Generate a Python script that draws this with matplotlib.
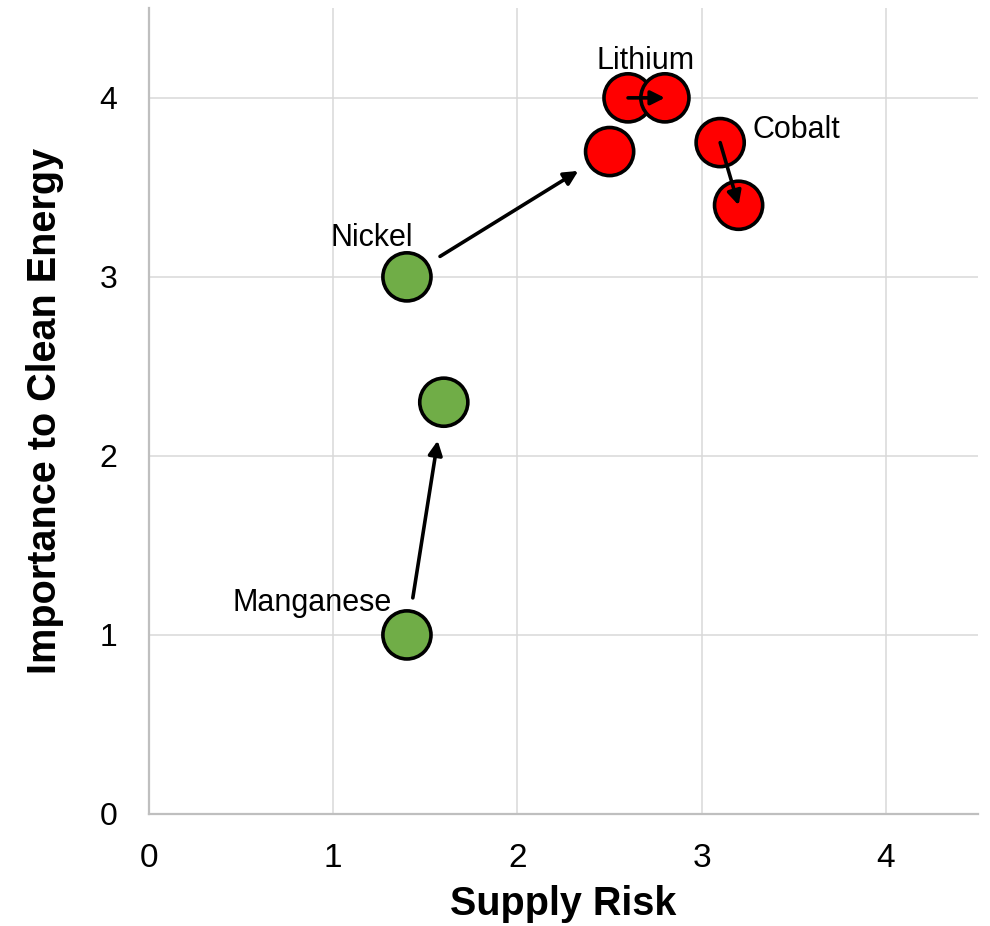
import matplotlib
matplotlib.use("Agg")
import matplotlib.pyplot as plt

font = ["Liberation Sans", "Arial", "DejaVu Sans"]
plt.rcParams["font.family"] = font

# Data
minerals = ["Manganese", "Nickel", "Lithium", "Cobalt"]
risk_from = [1.4, 1.4, 2.6, 3.1]
imp_from = [1.0, 3.0, 4.0, 3.75]
risk_to = [1.6, 2.5, 2.8, 3.2]
imp_to = [2.3, 3.7, 4.0, 3.4]
from_colors = ["#70AD47", "#70AD47", "#FF0000", "#FF0000"]
to_colors = ["#70AD47", "#FF0000", "#FF0000", "#FF0000"]
x_ticks = [0, 1, 2, 3, 4]
y_ticks = [0, 1, 2, 3, 4]

fig = plt.figure(figsize=(9.9, 9.26), dpi=100)
ax = fig.add_axes([0.1505, 0.121, 0.8375, 0.870])
ax.set_xlim(0, 4.5)
ax.set_ylim(0, 4.5)

ax.grid(True, color="#D9D9D9", lw=1.1, zorder=0)
ax.set_axisbelow(True)
for s in ["top", "right"]:
    ax.spines[s].set_visible(False)
for s in ["left", "bottom"]:
    ax.spines[s].set_color("#BFBFBF")
    ax.spines[s].set_linewidth(1.6)

ms = 1200
ax.scatter(risk_from, imp_from, s=ms, c=from_colors, edgecolors="black", linewidths=2.6, zorder=3)
ax.scatter(risk_to, imp_to, s=ms, c=to_colors, edgecolors="black", linewidths=2.6, zorder=3)

shrinks = [(27, 28), (28, 26.5), (0, 0), (0, 0)]
for i in range(len(minerals)):
    ax.annotate("", xy=(risk_to[i], imp_to[i]), xytext=(risk_from[i], imp_from[i]),
                arrowprops=dict(arrowstyle="-|>", color="black", lw=2.6,
                                mutation_scale=21,
                                shrinkA=shrinks[i][0], shrinkB=shrinks[i][1]),
                zorder=4)

lab_fs = 22
ax.annotate(minerals[0], (risk_from[0], imp_from[0]), xytext=(-11, 17), textcoords="offset points",
            ha="right", va="baseline", fontsize=lab_fs)
ax.annotate(minerals[1], (risk_from[1], imp_from[1]), xytext=(4, 22), textcoords="offset points",
            ha="right", va="baseline", fontsize=lab_fs)
ax.annotate(minerals[2], ((risk_from[2] + risk_to[2]) / 2, imp_from[2]), xytext=(-1, 21),
            textcoords="offset points", ha="center", va="baseline", fontsize=lab_fs)
ax.annotate(minerals[3], (risk_from[3], imp_from[3]), xytext=(23, 3.5), textcoords="offset points",
            ha="left", va="baseline", fontsize=lab_fs)

ax.set_xticks(x_ticks)
ax.set_yticks(y_ticks)
ax.tick_params(axis="both", length=0)
ax.tick_params(axis="x", pad=21, labelsize=24)
ax.tick_params(axis="y", pad=23, labelsize=23)

ax.set_xlabel("Supply Risk", fontsize=28.5, fontweight="bold")
ax.set_ylabel("Importance to Clean Energy", fontsize=28.5, fontweight="bold")
ax.xaxis.label.set_va("baseline")
ax.yaxis.label.set_va("baseline")
ax.xaxis.set_label_coords(0.5, (814 - 915) / (0.870 * 926))
ax.yaxis.set_label_coords((56 - 149) / (0.8375 * 990), 0.5)

fig.savefig("out.png", dpi=100)
